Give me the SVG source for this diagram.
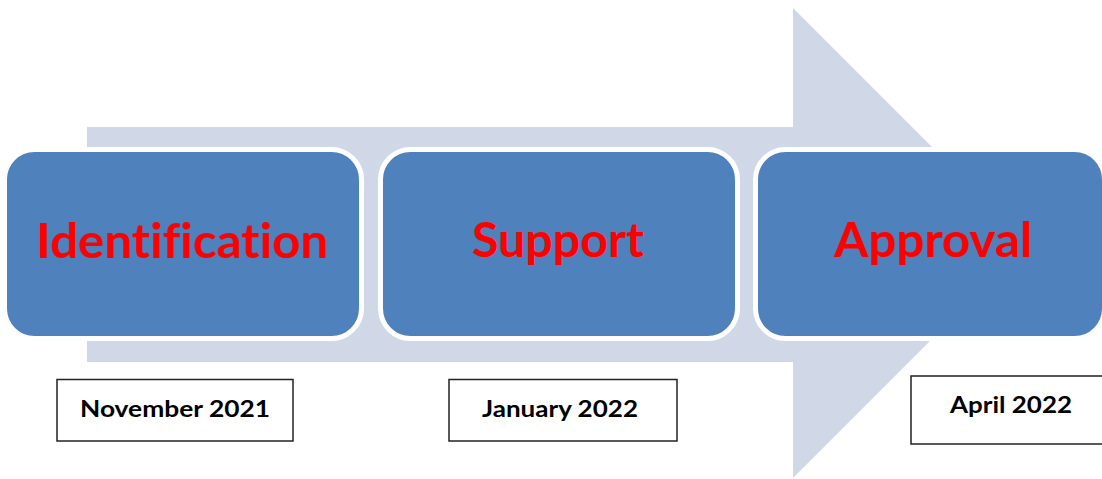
<svg xmlns="http://www.w3.org/2000/svg" width="1102" height="479" viewBox="0 0 1102 479">
  <style>
    .step { fill: #4F81BD; stroke: #FFFFFF; stroke-width: 5; }
    .label { font-family: Lato, "Open Sans", "Liberation Sans", sans-serif; font-weight: bold; font-size: 47px; fill: #FF0000; text-anchor: middle; font-variant-ligatures: none; }
    .date { fill: #FFFFFF; stroke: #222222; stroke-width: 1.5; }
    .datetext { font-family: Lato, "Open Sans", "Liberation Sans", sans-serif; font-weight: bold; font-size: 22px; fill: #000000; text-anchor: middle; font-variant-ligatures: none; }
  </style>
  <rect width="1102" height="479" fill="#FFFFFF"/>

  <!-- background process arrow -->
  <g id="connectors">
    <polygon points="87,127 793,127 793,8 1028,243 793,478 793,362 87,362" fill="#D0D8E8"/>
  </g>

  <g id="identification">
    <rect class="step" x="4.5" y="149.5" width="357" height="189" rx="30"/>
    <text class="label" x="182" y="258" textLength="292" lengthAdjust="spacingAndGlyphs">Identification</text>
  </g>
  <g id="support">
    <rect class="step" x="380.5" y="149.5" width="357" height="189" rx="30"/>
    <text class="label" x="558" y="257" textLength="172" lengthAdjust="spacingAndGlyphs">Support</text>
  </g>
  <g id="approval">
    <rect class="step" x="755.5" y="149.5" width="349" height="189" rx="30"/>
    <text class="label" x="933" y="257" textLength="198" lengthAdjust="spacingAndGlyphs">Approval</text>
  </g>

  <g id="date-november">
    <rect class="date" x="57" y="379.5" width="236" height="61.5"/>
    <text class="datetext" x="175" y="416.5" textLength="190" lengthAdjust="spacingAndGlyphs">November 2021</text>
  </g>
  <g id="date-january">
    <rect class="date" x="449" y="379.5" width="228" height="61.5"/>
    <text class="datetext" x="560" y="416.5" textLength="156" lengthAdjust="spacingAndGlyphs">January 2022</text>
  </g>
  <g id="date-april">
    <rect class="date" x="911" y="376" width="200" height="68"/>
    <text class="datetext" x="1011" y="412.5" textLength="122" lengthAdjust="spacingAndGlyphs">April 2022</text>
  </g>
</svg>
